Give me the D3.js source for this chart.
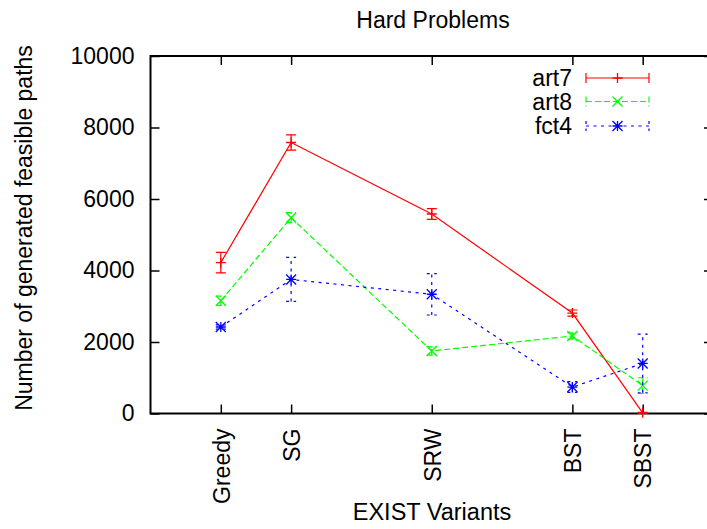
<!DOCTYPE html>
<html>
<head>
<meta charset="utf-8">
<script src="https://cdn.jsdelivr.net/npm/d3@7"></script>
<style>
  body { margin: 0; background: #fff; }
  text { font-family: "Liberation Sans", Arial, sans-serif; fill: #000; }
</style>
</head>
<body>
<div id="chart"></div>
<script>
const width = 707;
const height = 529;
const margins = { top: 56, bottom: 115.5, left: 150.5, right: -6 };

// data
const categories = ["Greedy", "SG", "SRW", "BST", "SBST"];
const xPositions = [1, 2, 4, 6, 7];
const yTicks = [0, 2000, 4000, 6000, 8000, 10000];

const art7 = [4220, 7580, 5580, 2810, 20];
const art7Err = [285, 215, 150, 85, 15];
const art8 = [3155, 5477, 1750, 2168, 780];
const art8Err = [130, 140, 115, 90, 220];
const fct4 = [2420, 3750, 3335, 740, 1400];
const fct4Err = [60, 615, 580, 150, 820];

const seriesNames = ["art7", "art8", "fct4"];

const series = [
  { name: seriesNames[0], values: art7, err: art7Err, color: "#ff0000", dash: null, mark: "plus" },
  { name: seriesNames[1], values: art8, err: art8Err, color: "#00ff00", dash: "6,3", mark: "cross" },
  { name: seriesNames[2], values: fct4, err: fct4Err, color: "#0000ff", dash: "3,4.5", mark: "star" },
];

// SCALES
const xScale = d3.scaleLinear().domain([0, 8]).range([margins.left, width - margins.right]);
const yScale = d3.scaleLinear().domain([0, 10000]).range([height - margins.bottom, margins.top]);

const svg = d3
  .select("#chart")
  .append("svg")
  .attr("width", width)
  .attr("height", height)
  .style("background", "#fff");

const fontSize = "23px";

// AXES
const yAxis = d3
  .axisLeft(yScale)
  .tickValues(yTicks)
  .tickFormat(d3.format("d"))
  .tickSizeInner(-9)
  .tickSizeOuter(0)
  .tickPadding(16);
const xAxis = d3
  .axisBottom(xScale)
  .tickValues(xPositions)
  .tickFormat((d, i) => categories[i])
  .tickSizeInner(-9)
  .tickSizeOuter(0);

const yG = svg.append("g").attr("transform", `translate(${margins.left},0)`).call(yAxis);
yG.selectAll("text").style("font-size", fontSize).attr("dy", "0.32em");

const xG = svg.append("g").attr("transform", `translate(0,${height - margins.bottom})`).call(xAxis);
xG.selectAll("text")
  .style("font-size", fontSize)
  .attr("text-anchor", "end")
  .attr("transform", "rotate(-90)")
  .attr("x", -15)
  .attr("y", 0)
  .attr("dy", "0.36em");

// mirror ticks
svg.append("g")
  .attr("transform", `translate(0,${margins.top})`)
  .call(d3.axisTop(xScale).tickValues(xPositions).tickFormat("").tickSizeInner(-9).tickSizeOuter(0));
svg.append("g")
  .attr("transform", `translate(${width - margins.right},0)`)
  .call(d3.axisRight(yScale).tickValues(yTicks).tickFormat("").tickSizeInner(-9).tickSizeOuter(0));

svg.selectAll(".domain").remove();
svg.selectAll(".tick line").attr("stroke", "#000").attr("stroke-width", 1.5);

// FRAME
svg.append("rect")
  .attr("x", margins.left)
  .attr("y", margins.top)
  .attr("width", width - margins.right - margins.left)
  .attr("height", height - margins.bottom - margins.top)
  .attr("fill", "none")
  .attr("stroke", "#000")
  .attr("stroke-width", 2);

// MARKERS
function markerPath(type, x, y, s) {
  const plus = `M${x - s},${y}H${x + s}M${x},${y - s}V${y + s}`;
  const cross = `M${x - s},${y - s}L${x + s},${y + s}M${x - s},${y + s}L${x + s},${y - s}`;
  if (type === "plus") return plus;
  if (type === "cross") return cross;
  return plus + cross;
}

const cap = 5;
const plot = svg.append("g");

series.forEach((s) => {
  const pts = s.values.map((v, i) => ({ x: xPositions[i], y: v, e: s.err[i] }));
  const g = plot.append("g");

  // error bars
  g.selectAll("path.err")
    .data(pts)
    .enter()
    .append("path")
    .attr("class", "err")
    .attr("d", (d) => {
      const x = xScale(d.x);
      const y0 = yScale(d.y - d.e);
      const y1 = yScale(d.y + d.e);
      return `M${x},${y0}V${y1}M${x - cap},${y0}H${x + cap}M${x - cap},${y1}H${x + cap}`;
    })
    .attr("fill", "none")
    .attr("stroke", s.color)
    .attr("stroke-width", 1.2)
    .attr("stroke-dasharray", s.dash);

  // connecting line
  const line = d3.line().x((d) => xScale(d.x)).y((d) => yScale(d.y));
  g.append("path")
    .attr("d", line(pts))
    .attr("fill", "none")
    .attr("stroke", s.color)
    .attr("stroke-width", 1.2)
    .attr("stroke-dasharray", s.dash);

  // point markers
  g.selectAll("path.mark")
    .data(pts)
    .enter()
    .append("path")
    .attr("class", "mark")
    .attr("d", (d) => markerPath(s.mark, xScale(d.x), yScale(d.y), 5))
    .attr("fill", "none")
    .attr("stroke", s.color)
    .attr("stroke-width", 1.3);
});

// LEGEND
const legendY = [78, 101.5, 126];
series.forEach((s, i) => {
  const y = legendY[i];
  svg.append("text")
    .text(s.name)
    .attr("x", 572)
    .attr("y", y)
    .attr("dy", "0.36em")
    .attr("text-anchor", "end")
    .style("font-size", fontSize);
  svg.append("path")
    .attr("d", `M586,${y}H649M586,${y - cap}V${y + cap}M649,${y - cap}V${y + cap}`)
    .attr("fill", "none")
    .attr("stroke", s.color)
    .attr("stroke-width", 1.2)
    .attr("stroke-dasharray", s.dash);
  svg.append("path")
    .attr("d", markerPath(s.mark, 617.5, y, 5))
    .attr("fill", "none")
    .attr("stroke", s.color)
    .attr("stroke-width", 1.3);
});

// LABELS
svg.append("text")
  .text("Hard Problems")
  .attr("x", 433)
  .attr("y", 28)
  .attr("text-anchor", "middle")
  .style("font-size", fontSize);

svg.append("text")
  .text("EXIST Variants")
  .attr("x", 432)
  .attr("y", 520)
  .attr("text-anchor", "middle")
  .style("font-size", "23.5px");

svg.append("text")
  .text("Number of generated feasible paths")
  .attr("transform", "translate(32,228) rotate(-90)")
  .attr("text-anchor", "middle")
  .style("font-size", "23px");
</script>
</body>
</html>
